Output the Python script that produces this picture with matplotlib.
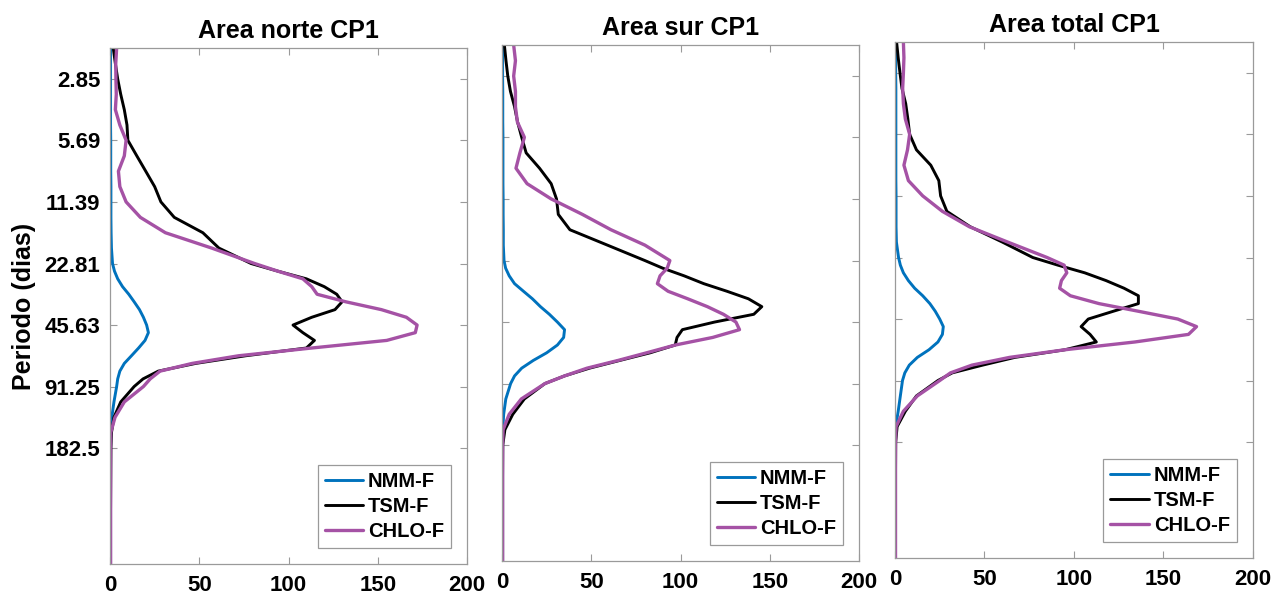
import numpy as np
import matplotlib.pyplot as plt
from matplotlib.ticker import NullLocator

plt.rcParams['font.family'] = ['Liberation Sans', 'DejaVu Sans']
plt.rcParams['font.weight'] = 'bold'

# periodo (dias), eje vertical
periods = [2.01, 2.40, 2.85, 3.39, 4.03, 4.79, 5.69, 6.78, 8.06, 9.59,
           11.39, 13.56, 16.12, 19.17, 22.81, 24.86, 27.10, 29.60, 32.25, 35.10,
           38.35, 41.80, 45.63, 49.70, 54.25, 59.10, 64.50, 70.30, 76.70, 83.70,
           91.25, 108.5, 129.0, 153.4, 182.5, 258.0, 365.0, 516.0, 674.0]

# Area norte
norte_nmm = [0.3, 0.3, 0.3, 0.3, 0.3, 0.3, 0.4, 0.4, 0.4, 0.5,
             0.5, 0.5, 0.6, 0.8, 1.4, 2.5, 4.3, 7.0, 10.5, 13.5,
             16.5, 18.7, 20.5, 21.5, 19.6, 16.0, 12.0, 8.0, 5.5, 4.3,
             3.7, 2.2, 1.0, 0.4, 0.3, 0.3, 0.3, 0.3, 0.3]
norte_tsm = [1.8, 3.0, 4.3, 6.0, 8.0, 9.5, 10.0, 15.0, 20.0, 25.0,
             28.5, 36.0, 52.0, 61.0, 79.0, 94.0, 110.0, 120.0, 127.0, 130.0,
             126.0, 113.0, 102.5, 108.0, 114.5, 110.0, 76.0, 48.0, 27.0, 18.5,
             13.5, 6.0, 2.2, 0.8, 0.5, 0.4, 0.3, 0.3, 0.3]
norte_chl = [3.7, 3.2, 3.3, 3.5, 3.0, 5.5, 9.0, 8.0, 4.7, 5.5,
             9.0, 17.0, 31.0, 57.0, 81.0, 94.0, 108.0, 113.0, 116.0, 132.0,
             152.0, 166.0, 172.0, 171.0, 155.0, 113.0, 72.0, 46.0, 28.0, 22.5,
             18.7, 8.0, 2.8, 0.4, 0.3, 0.3, 0.3, 0.3, 0.3]

# Area sur
sur_nmm = [0.3, 0.3, 0.3, 0.4, 0.4, 0.4, 0.5, 0.5, 0.5, 0.5,
           0.6, 0.6, 0.7, 0.7, 1.1, 2.0, 4.0, 7.0, 12.0, 17.0,
           21.5, 26.5, 31.0, 35.0, 34.5, 31.0, 25.0, 17.5, 11.0, 7.0,
           4.8, 2.1, 0.9, 0.4, 0.3, 0.3, 0.3, 0.3, 0.3]
sur_tsm = [1.3, 2.2, 3.2, 4.7, 7.0, 8.7, 11.0, 13.5, 21.0, 27.5,
           30.5, 31.5, 38.0, 59.0, 80.0, 90.0, 102.0, 113.0, 126.0, 138.0,
           145.5, 141.0, 119.0, 101.0, 98.0, 97.0, 83.0, 66.0, 49.0, 35.0,
           24.0, 12.5, 6.0, 1.6, 0.4, 0.3, 0.3, 0.3, 0.3]
sur_chl = [6.5, 7.5, 6.5, 7.5, 7.5, 8.6, 12.5, 10.0, 7.8, 14.0,
           27.5, 45.0, 61.0, 80.0, 94.0, 92.5, 88.5, 87.0, 93.0, 104.0,
           115.0, 124.0, 131.0, 133.0, 118.0, 97.0, 81.0, 65.0, 47.6, 35.0,
           24.0, 10.8, 4.0, 0.6, 0.3, 0.3, 0.3, 0.3, 0.3]

# Area total
total_nmm = [0.4, 0.4, 0.4, 0.5, 0.5, 0.5, 0.5, 0.5, 0.5, 0.5,
             0.6, 0.6, 0.6, 0.8, 2.0, 3.0, 4.7, 7.5, 11.0, 15.5,
             19.5, 22.5, 25.0, 27.0, 26.5, 24.0, 19.0, 12.5, 8.0, 5.5,
             4.2, 3.0, 1.8, 0.4, 0.3, 0.3, 0.3, 0.3, 0.3]
total_tsm = [0.9, 1.8, 2.8, 3.9, 6.0, 7.2, 8.2, 12.0, 20.0, 24.5,
             25.5, 29.0, 42.0, 60.0, 77.0, 91.0, 106.0, 118.0, 128.0, 136.0,
             136.0, 122.0, 108.0, 104.0, 109.0, 112.5, 95.0, 67.0, 49.0, 32.0,
             24.0, 12.0, 5.8, 1.2, 0.4, 0.3, 0.3, 0.3, 0.3]
total_chl = [4.7, 5.0, 4.7, 4.3, 4.7, 5.8, 8.2, 7.0, 5.0, 7.5,
             15.5, 26.5, 41.5, 63.0, 85.0, 94.5, 96.0, 93.0, 92.0, 98.0,
             114.0, 136.0, 158.0, 168.5, 164.0, 134.0, 95.0, 64.0, 43.0, 31.0,
             25.0, 12.5, 4.7, 0.6, 0.3, 0.3, 0.3, 0.3, 0.3]

titles = ['Area norte CP1', 'Area sur CP1', 'Area total CP1']
labels = ['NMM-F', 'TSM-F', 'CHLO-F']
colors = ['#0072BD', 'black', '#A552A5']
ytick_vals = [2.85, 5.69, 11.39, 22.81, 45.63, 91.25, 182.5]
ytick_labels = ['2.85', '5.69', '11.39', '22.81', '45.63', '91.25', '182.5']
xtick_vals = [0, 50, 100, 150, 200]

data = [[norte_nmm, norte_tsm, norte_chl],
        [sur_nmm, sur_tsm, sur_chl],
        [total_nmm, total_tsm, total_chl]]

# the three panels sit a few pixels apart vertically, like the original
boxes = [[0.0865, 0.0537, 0.2807, 0.8658],
         [0.3947, 0.0587, 0.2807, 0.8658],
         [0.7036, 0.0638, 0.2814, 0.8658]]

fig = plt.figure(figsize=(12.72, 5.96), dpi=100)

for i in range(3):
    ax = fig.add_axes(boxes[i])
    for vals, lab, c, lw in zip(data[i], labels, colors, [2.1, 2.1, 2.4]):
        ax.plot(vals, periods, color=c, lw=lw, label=lab,
                solid_joinstyle='round', solid_capstyle='round')

    ax.set_yscale('log')
    ax.set_ylim(674, 2.01)
    ax.set_xlim(0, 200)
    ax.set_xticks(xtick_vals)
    ax.set_yticks(ytick_vals)
    ax.yaxis.set_minor_locator(NullLocator())
    if i == 0:
        ax.set_yticklabels(ytick_labels)
        ax.set_ylabel('Periodo (dias)', fontsize=18, fontweight='bold', labelpad=6)
    else:
        ax.set_yticklabels([])

    ax.tick_params(direction='in', top=True, right=True, length=5, width=0.8,
                   color='#9a9a9a', labelsize=16)
    ax.tick_params(axis='x', pad=8)
    ax.tick_params(axis='y', pad=7)
    for s in ax.spines.values():
        s.set_color('#9a9a9a')
        s.set_linewidth(0.9)

    ax.set_title(titles[i], fontsize=18, fontweight='bold', pad=7)

    leg = ax.legend(loc='lower right', fontsize=14.5, frameon=True, fancybox=False,
                    edgecolor='#9a9a9a', framealpha=1, borderaxespad=0.8,
                    handlelength=1.9, handletextpad=0.25, labelspacing=0.3,
                    borderpad=0.35)
    leg.get_frame().set_linewidth(0.9)

plt.savefig('out.png', dpi=100)
